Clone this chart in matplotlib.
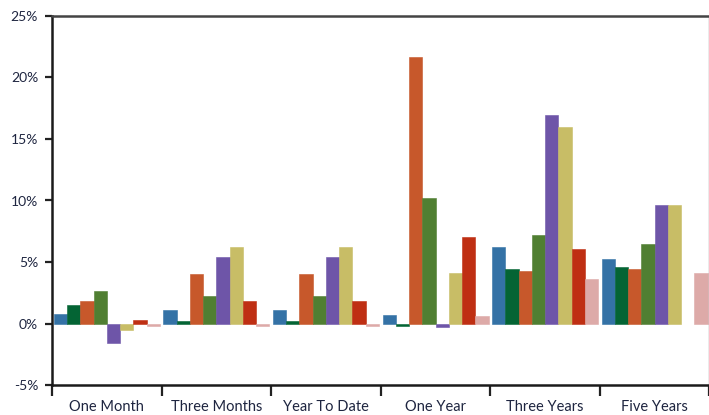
import numpy as np
import matplotlib
matplotlib.use("Agg")
import matplotlib.pyplot as plt
from matplotlib.ticker import FuncFormatter

# Return periods and the eight return series (percent)
periods = ["One Month", "Three Months", "Year To Date", "One Year", "Three Years", "Five Years"]

series_1 = [0.8, 1.13, 1.13, 0.73, 6.22, 5.28]
series_2 = [1.54, 0.19, 0.19, -0.22, 4.43, 4.57]
series_3 = [1.81, 4.03, 4.03, 21.64, 4.30, 4.43]
series_4 = [2.62, 2.22, 2.22, 10.23, 7.19, 6.49]
series_5 = [-1.62, 5.38, 5.38, -0.25, 16.99, 9.66]
series_6 = [-0.54, 6.22, 6.22, 4.14, 16.01, 9.66]
series_7 = [0.32, 1.81, 1.81, 7.06, 6.09, np.nan]
series_8 = [-0.2, -0.2, -0.2, 0.59, 3.60, 4.14]

all_series = [series_1, series_2, series_3, series_4,
              series_5, series_6, series_7, series_8]
colors = ["#3472A6", "#046434", "#C7582B", "#507F32",
          "#6E55A8", "#C8BD66", "#BF2F13", "#DDAAA8"]

y_ticks = [-5, 0, 5, 10, 15, 20, 25]

text_color = "#1E2540"
plt.rcParams["font.family"] = ["Lato", "DejaVu Sans"]

fig = plt.figure(figsize=(7.09, 4.15), dpi=100)
ax = fig.add_axes([52 / 709, 30 / 415, 657.5 / 709, 369 / 415])

n = len(all_series)
bar_w = 0.121
x = np.arange(len(periods))
start = 0.5 - bar_w * n / 2
for i, (vals, c) in enumerate(zip(all_series, colors)):
    ax.bar(x + start + bar_w * (i + 0.5), vals, width=bar_w, color=c,
           edgecolor=c, linewidth=0.4)

ax.set_xlim(0, len(periods))
ax.set_ylim(-5, 25)
ax.set_yticks(y_ticks)
ax.yaxis.set_major_formatter(FuncFormatter(lambda v, p: f"{v:.0f}%"))

# category boundaries carry the tick marks; names sit at the centres
ax.set_xticks(np.arange(len(periods) + 1))
ax.set_xticklabels([])
ax.set_xticks(x + 0.5, minor=True)
ax.set_xticklabels(periods, minor=True)
ax.tick_params(axis="x", which="major", length=8, width=1.6, color="#222222", direction="out")
ax.tick_params(axis="x", which="minor", length=0, pad=11, labelsize=10.5, labelcolor=text_color)
ax.tick_params(axis="y", length=5, width=1.6, color="#222222", direction="out",
               labelsize=10, labelcolor=text_color, pad=5)

for side in ["left", "bottom"]:
    ax.spines[side].set_color("#1a1a1a")
    ax.spines[side].set_linewidth(1.8)
ax.spines["top"].set_color("#444444")
ax.spines["top"].set_linewidth(1.8)
ax.spines["right"].set_color("#9a9a9a")
ax.spines["right"].set_linewidth(1.0)

fig.savefig("out.png", dpi=100)
